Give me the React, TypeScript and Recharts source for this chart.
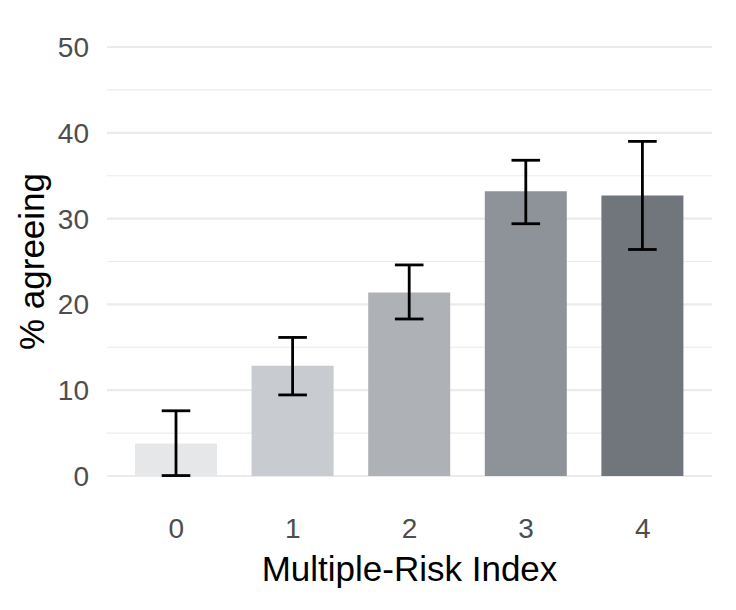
import React from "react";
import {
    Bar,
    BarChart,
    CartesianGrid,
    Cell,
    ErrorBar,
    XAxis,
    YAxis
} from "recharts";

// values
const riskIndex = ["0", "1", "2", "3", "4"];
const pctAgreeing = [3.8, 12.85, 21.4, 33.2, 32.7];
const ciLower = [0.05, 9.45, 18.3, 29.4, 26.4];
const ciUpper = [7.6, 16.15, 24.6, 36.8, 39.0];
const barColors = ["#e6e7e9", "#c8cbcf", "#aeb1b5", "#8e9299", "#71757c"];

const yTicks = [0, 10, 20, 30, 40, 50];
const yMinor = [5, 15, 25, 35, 45];

const FONT = "'Liberation Sans', Arial, Helvetica, sans-serif";

const data = riskIndex.map((k, i) => ({
    index: k,
    pct: pctAgreeing[i],
    err: [pctAgreeing[i] - ciLower[i], ciUpper[i] - pctAgreeing[i]],
}));

export default function App() {
    return (
        <div style={{ position: "absolute", left: 0, top: 0, width: 736, height: 610, background: "#fff" }}>
            <BarChart
                width={736}
                height={610}
                data={data}
                margin={{ top: 47, right: 24, left: 0, bottom: 0 }}
                barSize={82}
            >
                <CartesianGrid vertical={false} horizontalValues={yMinor} stroke="#ebebeb" strokeWidth={1.1} />
                <CartesianGrid vertical={false} horizontalValues={yTicks} stroke="#ebebeb" strokeWidth={2.2} />
                <XAxis
                    dataKey="index"
                    height={134}
                    axisLine={false}
                    tickLine={false}
                    tickSize={0}
                    tickMargin={42}
                    padding={{ left: 11, right: 11 }}
                    tick={{ fill: "#4d4d4d", fontSize: 28, fontFamily: FONT }}
                    label={{
                        value: "Multiple-Risk Index",
                        position: "insideBottom",
                        offset: 29,
                        fill: "#000",
                        fontSize: 35,
                        fontFamily: FONT,
                    }}
                />
                <YAxis
                    width={107}
                    domain={[0, 50]}
                    ticks={yTicks}
                    axisLine={false}
                    tickLine={false}
                    tickSize={0}
                    tickMargin={18}
                    tick={{ fill: "#4d4d4d", fontSize: 28, fontFamily: FONT }}
                    label={{
                        content: ({ viewBox }: any) => (
                            <text
                                transform={`translate(43.5, ${viewBox.y + viewBox.height / 2}) rotate(-90)`}
                                textAnchor="middle"
                                fill="#000"
                                fontSize={35}
                                fontFamily={FONT}
                            >
                                % agreeing
                            </text>
                        ),
                    }}
                />
                <Bar dataKey="pct" isAnimationActive={false}>
                    {data.map((d, i) => (
                        <Cell key={d.index} fill={barColors[i]} />
                    ))}
                    <ErrorBar dataKey="err" width={14.3} stroke="#000" strokeWidth={2.8} isAnimationActive={false} />
                </Bar>
            </BarChart>
        </div>
    );
}
